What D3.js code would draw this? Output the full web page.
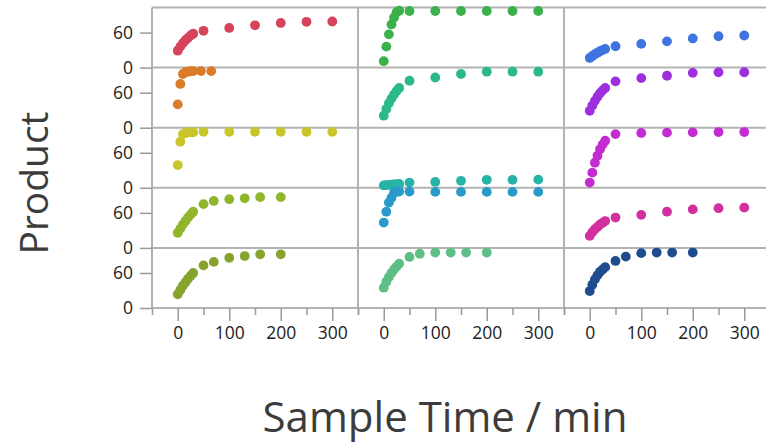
<!DOCTYPE html>
<html>
<head>
<meta charset="utf-8">
<script src="https://cdn.jsdelivr.net/npm/d3@7"></script>
<style>
  body { margin: 0; background: #fff; }
  svg { display: block; }
  .tick text { font-family: "Open Sans", sans-serif; font-size: 17.5px; fill: #222; }
  .axis-title { font-family: "Open Sans", sans-serif; fill: #3c3c3c; }
</style>
</head>
<body>
<div id="visualization"></div>
<script>
// Sample times (min) used by the different runs
const times300 = [0, 5, 10, 15, 20, 25, 30, 50, 100, 150, 200, 250, 300];
const times200 = [0, 5, 10, 15, 20, 25, 30, 50, 70, 100, 130, 160, 200];
const timesShort = [0, 5, 10, 15, 20, 25, 30, 45, 65];

// Product values, one array per panel (row r, column c)
const productR1C1 = [29, 36, 42, 47, 51, 55, 58, 63, 68, 72.5, 76.5, 78.5, 79];
const productR2C1 = [40, 75, 92, 95, 96, 97, 97, 97, 97];
const productR3C1 = [39, 79, 92, 94, 95, 95, 95, 96, 96, 96, 96, 96, 96];
const productR4C1 = [26, 33, 40, 46, 52, 57, 62, 75, 80.5, 83.5, 85, 87, 87];
const productR5C1 = [23.5, 31, 38, 44, 50, 55, 60, 73, 79, 86, 89, 92, 92];

const productR1C2 = [11, 36, 57, 74, 86, 95, 97.5, 97, 97, 97, 97, 97, 97];
const productR2C2 = [20.6, 32, 42, 50, 57, 63, 68, 80.6, 86, 92, 96, 96, 96];
const productR3C2 = [4, 4.5, 5, 5.5, 6, 6.2, 6.5, 9, 10, 12, 13.7, 13.7, 14];
const productR4C2 = [43.4, 62, 77.7, 86, 95, 96, 96.5, 96.5, 96, 96, 96, 96, 96];
const productR5C2 = [34.8, 45, 53, 60, 66, 71, 76, 87.5, 93, 95, 95, 95, 95];

const productR1C3 = [16.6, 20, 23, 25.5, 28, 30, 32, 36.6, 40.6, 45, 50, 53.7, 55];
const productR2C3 = [29, 38, 46, 53, 59, 64, 68, 79.4, 85, 89, 94, 95, 95];
const productR3C3 = [9, 26, 43, 55, 66, 74, 80.6, 92, 94, 94.5, 95, 95.5, 95.5];
const productR4C3 = [20.6, 27, 32, 36, 40, 43, 46, 52, 56.6, 62, 66, 68, 69];
const productR5C3 = [29, 40, 49, 56, 62, 66, 70, 80.6, 88, 94, 95, 95, 95];

// Axis ticks
const yTicks = [0, 60];
const xMajorTicks = [0, 100, 200, 300];
const xMinorTicks = [-50, 50, 150, 250, 350];

// Panel colours (by row, then column)
const panelColors = [
    ['#d6435a', '#3cb04a', '#3f73e0'],
    ['#d97b27', '#2bb98c', '#9d2fde'],
    ['#c9c62b', '#28b3a8', '#c22cd0'],
    ['#90b62c', '#2a9bc9', '#d22f9f'],
    ['#86a42d', '#5ebf86', '#1f4b8f'],
];

// Build the panel table
const panels = [
    { row: 0, col: 0, times: times300, values: productR1C1 },
    { row: 1, col: 0, times: timesShort, values: productR2C1 },
    { row: 2, col: 0, times: times300, values: productR3C1 },
    { row: 3, col: 0, times: times200, values: productR4C1 },
    { row: 4, col: 0, times: times200, values: productR5C1 },
    { row: 0, col: 1, times: times300, values: productR1C2 },
    { row: 1, col: 1, times: times300, values: productR2C2 },
    { row: 2, col: 1, times: times300, values: productR3C2 },
    { row: 3, col: 1, times: times300, values: productR4C2 },
    { row: 4, col: 1, times: times200, values: productR5C2 },
    { row: 0, col: 2, times: times300, values: productR1C3 },
    { row: 1, col: 2, times: times300, values: productR2C3 },
    { row: 2, col: 2, times: times300, values: productR3C3 },
    { row: 3, col: 2, times: times300, values: productR4C3 },
    { row: 4, col: 2, times: times200, values: productR5C3 },
];

const width = 766, height = 443;
const gridLeft = 152, gridTop = 7.5;
const colW = 206, rowH = 60.1;
const nRows = 5, nCols = 3;
const gridBottom = gridTop + nRows * rowH;
const gridColor = '#b3b3b3';

const svg = d3.select('#visualization')
    .append('svg')
    .attr('width', width)
    .attr('height', height);

// Scales: one x scale per column, one y scale per row
const xScales = d3.range(nCols).map(c =>
    d3.scaleLinear().domain([-50, 350]).range([gridLeft + c * colW, gridLeft + (c + 1) * colW]));
const yScales = d3.range(nRows).map(r =>
    d3.scaleLinear().domain([0, 103]).range([gridTop + (r + 1) * rowH, gridTop + r * rowH]));

// Frame lines
const frame = svg.append('g');
d3.range(nRows + 1).forEach(r => {
    frame.append('line')
        .attr('x1', gridLeft).attr('x2', width + 10)
        .attr('y1', gridTop + r * rowH).attr('y2', gridTop + r * rowH)
        .attr('stroke', gridColor).attr('stroke-width', 2);
});
d3.range(nCols + 1).forEach(c => {
    frame.append('line')
        .attr('x1', gridLeft + c * colW).attr('x2', gridLeft + c * colW)
        .attr('y1', gridTop).attr('y2', gridBottom)
        .attr('stroke', gridColor).attr('stroke-width', 2);
});

// Y axes (one per row)
yScales.forEach(y => {
    const g = svg.append('g')
        .attr('class', 'axis y-axis')
        .attr('transform', `translate(${gridLeft},0)`)
        .call(d3.axisLeft(y).tickValues(yTicks).tickSize(12).tickPadding(7));
    g.select('.domain').remove();
    g.selectAll('.tick line').attr('stroke', '#9a9a9a').attr('stroke-width', 1.5);
});

// X axes (one per column), major + minor ticks
xScales.forEach(x => {
    const g = svg.append('g')
        .attr('class', 'axis x-axis')
        .attr('transform', `translate(0,${gridBottom})`)
        .call(d3.axisBottom(x).tickValues(xMajorTicks).tickSize(13).tickPadding(6));
    g.select('.domain').remove();
    g.selectAll('.tick line').attr('stroke', '#9a9a9a').attr('stroke-width', 1.5);

    const gm = svg.append('g')
        .attr('transform', `translate(0,${gridBottom})`)
        .call(d3.axisBottom(x).tickValues(xMinorTicks).tickSize(7).tickFormat(''));
    gm.select('.domain').remove();
    gm.selectAll('.tick line').attr('stroke', '#9a9a9a').attr('stroke-width', 1.5);
});

// Points
const pts = svg.append('g');
panels.forEach(p => {
    const x = xScales[p.col], y = yScales[p.row];
    pts.selectAll(null)
        .data(p.times.map((t, i) => ({ t: t, v: p.values[i] })))
        .enter()
        .append('circle')
        .attr('cx', d => x(d.t))
        .attr('cy', d => y(d.v))
        .attr('r', 4.9)
        .attr('fill', panelColors[p.row][p.col]);
});

// Axis titles, sized to the reference widths
function fitText(sel, target) {
    const len = sel.node().getComputedTextLength();
    const fs = parseFloat(sel.attr('font-size'));
    sel.attr('font-size', fs * target / len);
}

const xTitle = svg.append('text')
    .attr('class', 'axis-title')
    .attr('x', 445)
    .attr('y', 432)
    .attr('text-anchor', 'middle')
    .attr('font-size', 40)
    .text('Sample Time / min');
fitText(xTitle, 365);

const yTitle = svg.append('text')
    .attr('class', 'axis-title')
    .attr('transform', 'translate(48,183) rotate(-90)')
    .attr('text-anchor', 'middle')
    .attr('font-size', 40)
    .text('Product');
fitText(yTitle, 143);
</script>
</body>
</html>
